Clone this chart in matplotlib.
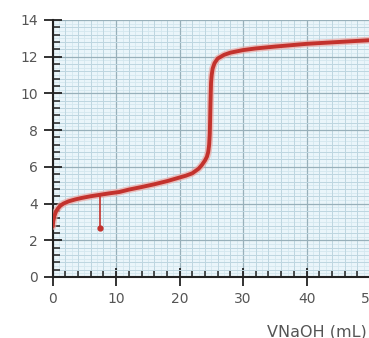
import numpy as np
import matplotlib
matplotlib.use("Agg")
import matplotlib.pyplot as plt
from matplotlib.ticker import MultipleLocator

# titration curve
vol = [0, 0.1, 0.25, 0.5, 0.8, 1.2, 1.7, 2.5, 3.5, 4.5, 6, 7.5, 9, 10.5, 12, 14,
       16, 18, 20, 21, 22, 23, 23.5, 24, 24.3, 24.5, 24.65, 24.75, 24.8, 24.85,
       24.9, 24.95, 25.05, 25.2, 25.5, 26, 27, 28, 30, 32, 35, 38, 40, 42, 45,
       48, 50]
ph = [2.75, 3.05, 3.3, 3.55, 3.72, 3.88, 4.0, 4.12, 4.22, 4.3, 4.4, 4.48, 4.56,
      4.63, 4.76, 4.9, 5.05, 5.22, 5.42, 5.52, 5.65, 5.9, 6.1, 6.35, 6.55, 6.8,
      7.2, 7.8, 8.5, 9.3, 10.0, 10.6, 11.0, 11.35, 11.65, 11.9, 12.1, 12.22,
      12.36, 12.45, 12.55, 12.64, 12.7, 12.74, 12.8, 12.86, 12.9]

# one bad reading near 7.4 mL
glitch_vol = [7.4, 7.4]
glitch_ph = [4.47, 2.65]

x_label = "VNaOH (mL)"

fig = plt.figure(figsize=(3.69, 3.38), dpi=100)
ax = fig.add_axes([0.1428, 0.1805, 0.86, 0.7604])
ax.set_facecolor("#eaf5fa")

ax.set_xlim(0, 50)
ax.set_ylim(0, 14)

# fine graph-paper grid
for v in np.arange(1, 50, 1):
    ax.axvline(v, color="#d4e7ef", lw=0.6, zorder=0)
for v in np.arange(0.2, 14, 0.2):
    ax.axhline(v, color="#d4e7ef", lw=0.6, zorder=0)

ax.xaxis.set_major_locator(MultipleLocator(10))
ax.xaxis.set_minor_locator(MultipleLocator(2))
ax.yaxis.set_major_locator(MultipleLocator(2))
ax.yaxis.set_minor_locator(MultipleLocator(0.4))

ax.grid(which="minor", color="#bed6e0", lw=0.7, zorder=0.5)
ax.grid(which="major", color="#98b0ba", lw=0.9, zorder=0.6)
ax.set_axisbelow(True)

ax.plot(vol, ph, color="#eaa8a4", lw=5.0, alpha=0.7, solid_capstyle="round",
        zorder=3)
ax.plot(vol, ph, color="#c3322d", lw=2.8, solid_capstyle="round", zorder=4)
ax.plot(glitch_vol, glitch_ph, color="#c3322d", lw=1.2, zorder=4)
ax.plot(glitch_vol[-1:], glitch_ph[-1:], "o", color="#c3322d", ms=3.5, zorder=4)

for s in ["top", "right"]:
    ax.spines[s].set_visible(False)
for s in ["left", "bottom"]:
    ax.spines[s].set_linewidth(1.5)
    ax.spines[s].set_color("#222222")

ax.tick_params(which="major", direction="inout", length=13, width=1.3,
               color="#222222", labelcolor="#555555", labelsize=10, pad=4)
ax.tick_params(which="minor", direction="in", length=5, width=1.1,
               color="#222222")

fig.text(267 / 369, -0.004, x_label, ha="left", va="bottom", fontsize=11.5,
         color="#555555")

fig.savefig("out.png", dpi=100)
